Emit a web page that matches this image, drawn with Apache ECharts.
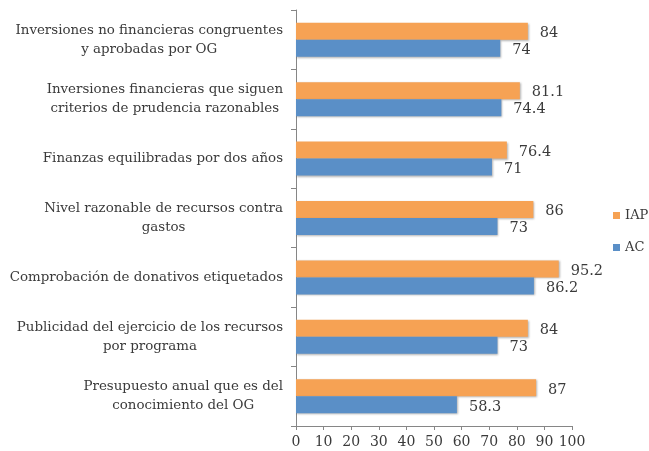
<!DOCTYPE html>
<html><head><meta charset="utf-8">
<script src="https://cdn.jsdelivr.net/npm/echarts@6/dist/echarts.min.js"></script>
<style>html,body{margin:0;padding:0;background:#fff}#c{width:649px;height:451px}</style>
</head><body><div id="c"></div>
<script>
var categories = [
  "Inversiones no financieras congruentes\ny aprobadas por OG",
  "Inversiones financieras que siguen\ncriterios de prudencia razonables",
  "Finanzas equilibradas por dos años",
  "Nivel razonable de recursos contra\ngastos",
  "Comprobación de donativos etiquetados",
  "Publicidad del ejercicio de los recursos\npor programa",
  "Presupuesto anual que es del\nconocimiento del OG"
];
var iap = [84, 81.1, 76.4, 86, 95.2, 84, 87];
var ac = [74, 74.4, 71, 73, 86.2, 73, 58.3];
var xTicks = [0, 10, 20, 30, 40, 50, 60, 70, 80, 90, 100];

var FONT = "DejaVu Serif";
var TXT = "#3a3a3a";
var chart = echarts.init(document.getElementById('c'), null, {renderer: 'canvas'});
var shadow = {shadowColor: 'rgba(0,0,0,0.3)', shadowBlur: 2, shadowOffsetX: 1, shadowOffsetY: 1};
chart.setOption({
  animation: false,
  grid: {left: 296, right: 77, top: 10, bottom: 25, containLabel: false},
  legend: {
    orient: 'vertical', left: 608, top: 204, itemWidth: 7, itemHeight: 7, itemGap: 19,
    icon: 'rect', textStyle: {fontFamily: FONT, fontSize: 13, color: TXT},
    data: ['IAP', 'AC']
  },
  xAxis: {
    type: 'value', min: xTicks[0], max: xTicks[xTicks.length - 1], interval: 10,
    splitLine: {show: false},
    axisLine: {show: true, lineStyle: {color: '#868686'}},
    axisTick: {show: true, length: 4, lineStyle: {color: '#868686'}},
    axisLabel: {fontFamily: FONT, fontSize: 14, color: TXT, margin: 9}
  },
  yAxis: {
    type: 'category', inverse: true, data: categories,
    axisLine: {show: true, lineStyle: {color: '#868686'}},
    axisTick: {show: true, length: 5, alignWithLabel: false, lineStyle: {color: '#868686'}},
    axisLabel: {
      margin: 13, align: 'right',
      formatter: function (v) { return v.split('\n').map(function (s) { return '{c|' + s + '}'; }).join('\n'); },
      rich: {c: {fontFamily: FONT, fontSize: 13.4, color: TXT, align: 'center', lineHeight: 19}}
    }
  },
  series: [
    {name: 'IAP', type: 'bar', data: iap, barWidth: 17, barGap: '0%',
     itemStyle: Object.assign({color: '#F6A254'}, shadow),
     label: {show: true, position: 'right', distance: 12, offset: [0, 2], fontFamily: FONT, fontSize: 14.5, color: TXT}},
    {name: 'AC', type: 'bar', data: ac, barWidth: 17, barGap: '0%',
     itemStyle: Object.assign({color: '#5A8FC7'}, shadow),
     label: {show: true, position: 'right', distance: 12, offset: [0, 2], fontFamily: FONT, fontSize: 14.5, color: TXT}}
  ]
});
</script></body></html>
